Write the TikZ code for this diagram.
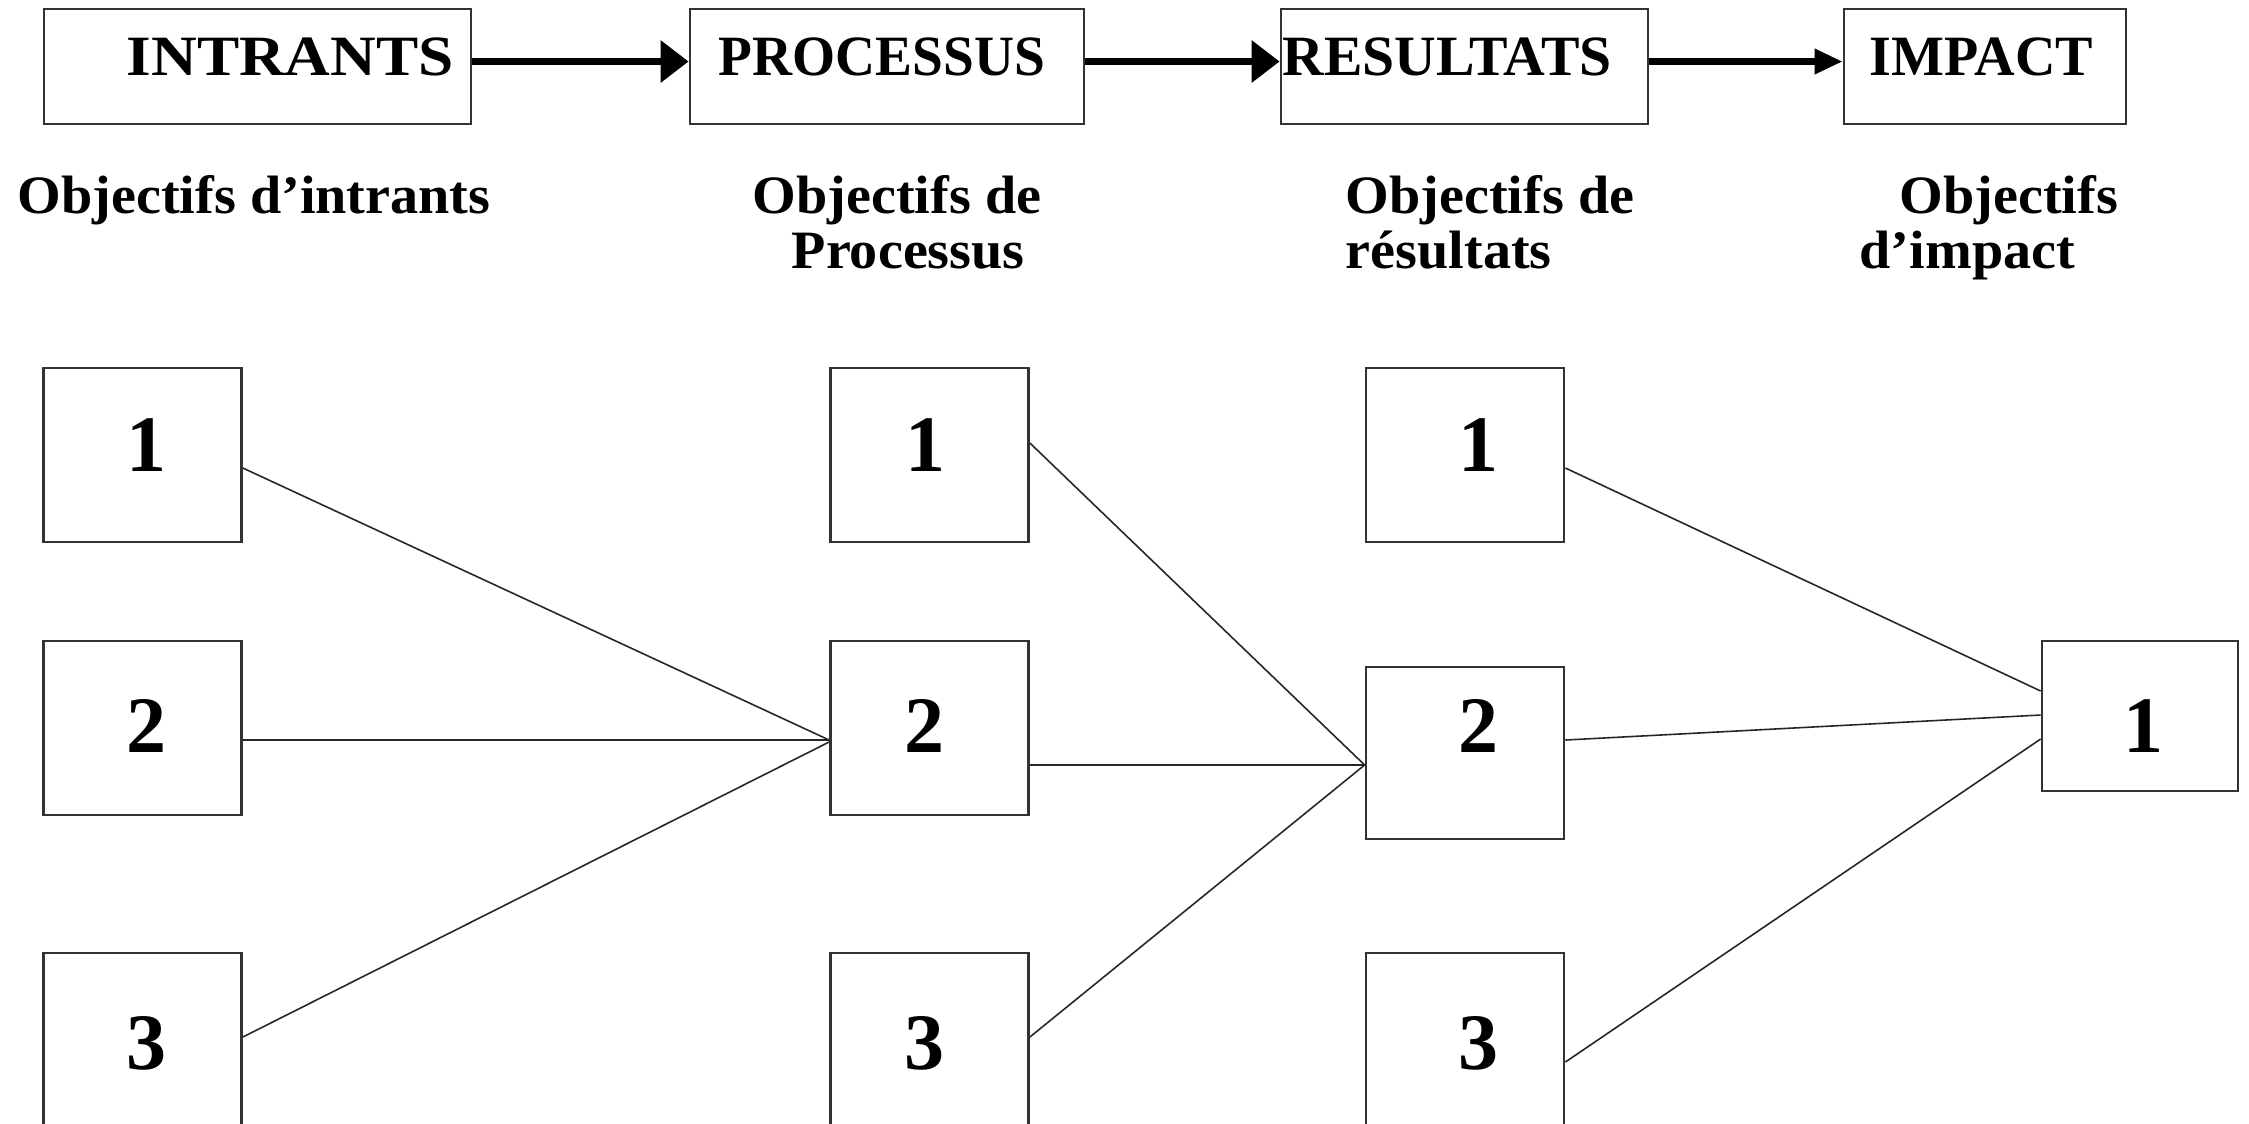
\documentclass[tikz,border=0pt]{standalone}
\usepackage{fontspec}
\usepackage{graphicx}
\setmainfont{Liberation Serif}
\newfontfamily\topfont{Liberation Serif}
\newfontfamily\labfont[FakeStretch=1.04]{Liberation Serif}
\usetikzlibrary{arrows.meta,calc}
\newcommand{\fitword}[2]{\resizebox{#1}{\height}{#2}}
\begin{document}
\begin{tikzpicture}[x=0.01cm,y=-0.01cm,
  box/.style={draw=black!80, line width=0.75pt, rectangle, inner sep=0pt, fill=white},
  headbox/.style={box, minimum height=1.15cm},
  numbox/.style={box, minimum width=1.98cm, minimum height=1.74cm},
  headtxt/.style={anchor=base west, inner sep=0pt, font={\topfont\bfseries\fontsize{16.2pt}{16.2pt}\selectfont}},
  labtxt/.style={anchor=base west, inner sep=0pt, font={\labfont\bfseries\fontsize{15.36pt}{15.36pt}\selectfont}},
  numtxt/.style={anchor=base, inner sep=0pt, font={\bfseries\fontsize{22.76pt}{22.76pt}\selectfont}},
  flow/.style={line width=1.9pt, -{Triangle[length=7.97pt,width=11.67pt]}},
  flownarrow/.style={line width=1.9pt, -{Triangle[length=7.97pt,width=6.83pt]}},
  link/.style={line width=0.45pt, draw=black!85}
]
\clip (0,0) rectangle (2249,1123);
\fill[white] (0,0) rectangle (2249,1123);

% top row
\node[headbox, minimum width=4.27cm] (t1) at (257.5,66.5) {};
\node[headbox, minimum width=3.94cm] (t2) at (887,66.5) {};
\node[headbox, minimum width=3.67cm] (t3) at (1464.5,66.5) {};
\node[headbox, minimum width=2.82cm] (t4) at (1985,66.5) {};
\node[headtxt] (t1txt) at (126,75) {\fitword{3.27cm}{INTRANTS}};
\node[headtxt] (t2txt) at (718,75) {\fitword{3.26cm}{PROCESSUS}};
\node[headtxt] (t3txt) at (1282,75) {\fitword{3.29cm}{RESULTATS}};
\node[headtxt] (t4txt) at (1869,75) {\fitword{2.23cm}{IMPACT}};

\draw[flow] ($(t1.east)+(0,-5)$) -- ($(t2.west)+(0,-5)$);
\draw[flow] ($(t2.east)+(0,-5)$) -- ($(t3.west)+(0,-5)$);
\draw[flownarrow] ($(t3.east)+(0,-5)$) -- ($(t4.west)+(0,-5)$);

% labels
\node[labtxt] (l1a) at (17,213) {Objectifs d’intrants};
\node[labtxt] (l2a) at (752,213) {Objectifs de};
\node[labtxt] (l2b) at (791,268) {Processus};
\node[labtxt] (l3a) at (1345,213) {Objectifs de};
\node[labtxt] (l3b) at (1345,268) {résultats};
\node[labtxt] (l4a) at (1899,213) {Objectifs};
\node[labtxt] (l4b) at (1859,268) {d’impact};

% number boxes
\node[numbox] (a1) at (142.5,455) {};
\node[numbox] (a2) at (142.5,728) {};
\node[numbox] (a3) at (142.5,1040) {};
\node[numbox] (b1) at (929.5,455) {};
\node[numbox] (b2) at (929.5,728) {};
\node[numbox] (b3) at (929.5,1040) {};
\node[numbox] (c1) at (1465,455) {};
\node[numbox, minimum height=1.72cm] (c2) at (1465,753) {};
\node[numbox] (c3) at (1465,1040) {};
\node[numbox, minimum width=1.96cm, minimum height=1.50cm] (d1) at (2140,716) {};

\node[numtxt] (na1) at (147,471) {1};
\node[numtxt] (na2) at (147,752) {2};
\node[numtxt] (na3) at (147,1069) {3};
\node[numtxt] (nb1) at (925,471) {1};
\node[numtxt] (nb2) at (924,752) {2};
\node[numtxt] (nb3) at (924,1069) {3};
\node[numtxt] (nc1) at (1478,471) {1};
\node[numtxt] (nc2) at (1478,752) {2};
\node[numtxt] (nc3) at (1478,1069) {3};
\node[numtxt] (nd1) at (2143,752) {1};

% connectors
\draw[link] ($(a1.east)+(0,13)$) -- ($(b2.west)+(0,12)$);
\draw[link] ($(a2.east)+(0,12)$) -- ($(b2.west)+(0,12)$);
\draw[link] ($(a3.east)+(0,-3)$) -- ($(b2.west)+(0,14)$);
\draw[link] ($(b1.east)+(0,-12)$) -- ($(c2.west)+(0,12)$);
\draw[link] ($(b2.east)+(0,37)$) -- ($(c2.west)+(0,12)$);
\draw[link] ($(b3.east)+(0,-3)$) -- ($(c2.west)+(0,12)$);
\draw[link] ($(c1.east)+(0,13)$) -- ($(d1.west)+(0,-25)$);
\draw[link] ($(c2.east)+(0,-13)$) -- ($(d1.west)+(0,-1)$);
\draw[link] ($(c3.east)+(0,22)$) -- ($(d1.west)+(0,23)$);
\end{tikzpicture}
\end{document}
